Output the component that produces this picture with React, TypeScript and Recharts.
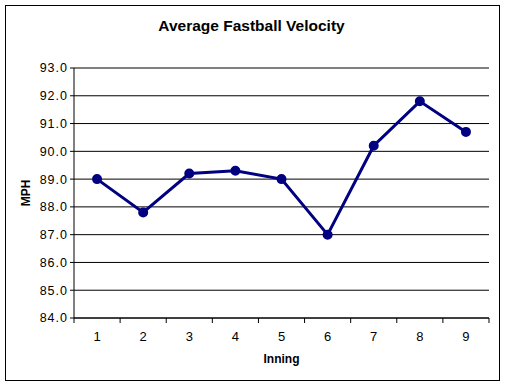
import { LineChart, Line, XAxis, YAxis, CartesianGrid } from 'recharts'

const innings = [1, 2, 3, 4, 5, 6, 7, 8, 9]
const velocity = [89.0, 87.8, 89.2, 89.3, 89.0, 87.0, 90.2, 91.8, 90.7]
const mphTicks = [84, 85, 86, 87, 88, 89, 90, 91, 92, 93]

const FONT = '"Liberation Sans", Arial, sans-serif'

const data = innings.map((inning, i) => ({ inning, mph: velocity[i] }))

// category edges sit half an inning either side of the labels (Excel style ticks)
const edges = [innings[0] - 0.5, ...innings.map((n) => n + 0.5)]
const xTicks = [...edges, ...innings].sort((a, b) => a - b)

function InningTick({ x, y, payload }: any) {
  const v = payload.value
  if (Number.isInteger(v)) {
    return (
      <text x={x} y={y + 23} textAnchor="middle" fontSize={13} fontFamily={FONT} fill="#000">
        {v}
      </text>
    )
  }
  return <line x1={x} y1={y} x2={x} y2={y + 5} stroke="#000" />
}

export default function App() {
  return (
    <div style={{ position: 'absolute', left: 0, top: 0, width: 505, height: 386, background: '#fff' }}>
      <div
        style={{
          position: 'absolute',
          left: 5,
          top: 5,
          width: 495,
          height: 376,
          boxSizing: 'border-box',
          border: '1px solid #000',
        }}
      />
      <div
        style={{
          position: 'absolute',
          left: 0,
          top: 16,
          width: 503,
          textAlign: 'center',
          fontFamily: FONT,
          fontWeight: 'bold',
          fontSize: 15.5,
          lineHeight: '20px',
        }}
      >
        Average Fastball Velocity
      </div>
      <LineChart
        width={505}
        height={386}
        data={data}
        margin={{ top: 68, right: 16, bottom: 8, left: 0 }}
        style={{ position: 'absolute', left: 0, top: 0 }}
      >
        <CartesianGrid vertical={false} stroke="#000" strokeOpacity={1} />
        <XAxis
          dataKey="inning"
          type="number"
          domain={[edges[0], edges[edges.length - 1]]}
          ticks={xTicks}
          interval={0}
          height={60}
          tickSize={0}
          tickMargin={0}
          tickLine={false}
          axisLine={{ stroke: '#000' }}
          tick={<InningTick />}
          label={({ viewBox }: any) => (
            <text
              x={viewBox.x + viewBox.width / 2}
              y={363}
              textAnchor="middle"
              fontSize={12}
              fontWeight="bold"
              fontFamily={FONT}
              fill="#000"
            >
              Inning
            </text>
          )}
        />
        <YAxis
          domain={[84, 93]}
          ticks={mphTicks}
          interval={0}
          width={74}
          tickSize={4}
          tickMargin={2}
          tickLine={{ stroke: '#000' }}
          axisLine={{ stroke: '#000' }}
          tickFormatter={(v: number) => v.toFixed(1)}
          tick={{ fill: '#000', fontSize: 12.5, fontFamily: FONT, letterSpacing: 1 }}
          label={({ viewBox }: any) => (
            <text
              x={30}
              y={viewBox.y + viewBox.height / 2}
              transform={`rotate(-90 30 ${viewBox.y + viewBox.height / 2})`}
              textAnchor="middle"
              fontSize={12}
              fontWeight="bold"
              fontFamily={FONT}
              fill="#000"
            >
              MPH
            </text>
          )}
        />
        <YAxis
          yAxisId="frame"
          orientation="right"
          domain={[84, 93]}
          width={0}
          tick={false}
          tickLine={false}
          axisLine={{ stroke: '#000' }}
        />
        <Line
          dataKey="mph"
          stroke="#000080"
          strokeWidth={3}
          dot={{ r: 4, fill: '#000080', stroke: '#000080', strokeWidth: 2 }}
          activeDot={false}
          isAnimationActive={false}
        />
      </LineChart>
    </div>
  )
}
